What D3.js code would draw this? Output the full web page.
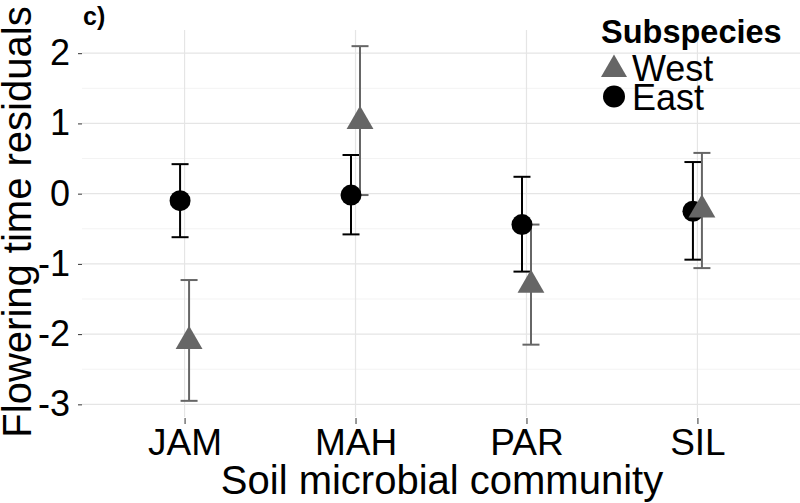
<!DOCTYPE html>
<html lang="en">
<head>
<meta charset="UTF-8">
<title>Flowering time residuals</title>
<script src="https://cdn.jsdelivr.net/npm/d3@7"></script>
<style>
  body { margin: 0; background: #fff; }
  text { font-family: "Liberation Sans", Arial, sans-serif; }
</style>
</head>
<body>
<svg width="800" height="503"></svg>
<script>
    // data
    var categories = ["JAM", "MAH", "PAR", "SIL"];
    var eastMean = [-0.10, -0.02, -0.44, -0.25];
    var eastLo   = [-0.62, -0.58, -1.11, -0.94];
    var eastHi   = [ 0.42,  0.55,  0.24,  0.45];
    var westMean = [-2.10,  1.03, -1.30, -0.23];
    var westLo   = [-2.95, -0.02, -2.15, -1.06];
    var westHi   = [-1.23,  2.10, -0.44,  0.58];
    var yTicks = [-3, -2, -1, 0, 1, 2];
    var yMinor = [-2.5, -1.5, -0.5, 0.5, 1.5];

    var svg = d3.select("svg"),
        panel = {left: 82, right: 800, top: 30, bottom: 417};

    var x = d3.scalePoint()
        .domain(categories)
        .range([panel.left, panel.right])
        .padding(0.6);
    var y = d3.scaleLinear()
        .domain([-3.18, 2.33])
        .range([panel.bottom, panel.top]);

    var dodge = 4.5;
    var series = [
        {name: "East", mean: eastMean, lo: eastLo, hi: eastHi, color: "#000", shape: "circle", off: -dodge},
        {name: "West", mean: westMean, lo: westLo, hi: westHi, color: "#666", shape: "triangle", off: dodge}
    ];

    // grid
    var grid = svg.append("g");
    grid.selectAll(".minor").data(yMinor).enter().append("line")
        .attr("x1", panel.left).attr("x2", panel.right)
        .attr("y1", function(d){ return y(d); }).attr("y2", function(d){ return y(d); })
        .attr("stroke", "#f3f3f3").attr("stroke-width", 1);
    grid.selectAll(".major").data(yTicks).enter().append("line")
        .attr("x1", panel.left).attr("x2", panel.right)
        .attr("y1", function(d){ return y(d); }).attr("y2", function(d){ return y(d); })
        .attr("stroke", "#e5e5e5").attr("stroke-width", 1.2);
    grid.selectAll(".vert").data(categories).enter().append("line")
        .attr("x1", function(d){ return x(d); }).attr("x2", function(d){ return x(d); })
        .attr("y1", panel.top).attr("y2", panel.bottom)
        .attr("stroke", "#e5e5e5").attr("stroke-width", 1.2);

    // axes
    var yAxis = svg.append("g")
        .attr("transform", "translate(" + panel.left + ",0)")
        .call(d3.axisLeft(y).tickValues(yTicks).tickSize(4).tickPadding(8).tickFormat(d3.format("d")));
    yAxis.select(".domain").remove();
    yAxis.selectAll("line").attr("stroke", "#333");
    yAxis.selectAll("text").attr("font-size", "36px").attr("fill", "#000")
        .attr("font-family", "Liberation Sans, Arial, sans-serif")
        .text(function(d){ return d < 0 ? "-" + Math.abs(d) : d; });

    var xAxis = svg.append("g")
        .attr("transform", "translate(0," + (panel.bottom + 1) + ")")
        .call(d3.axisBottom(x).tickSize(6).tickPadding(5));
    xAxis.select(".domain").remove();
    xAxis.selectAll("line").attr("stroke", "#333");
    xAxis.selectAll("text").attr("font-size", "37px").attr("fill", "#000")
        .attr("font-family", "Liberation Sans, Arial, sans-serif");

    // axis titles
    svg.append("text")
        .attr("x", (panel.left + panel.right) / 2 + 1)
        .attr("y", 494)
        .attr("text-anchor", "middle")
        .attr("font-size", "40px")
        .text("Soil microbial community");
    svg.append("text")
        .attr("transform", "translate(31," + 222 + ") rotate(-90)")
        .attr("text-anchor", "middle")
        .attr("font-size", "40px")
        .text("Flowering time residuals");

    svg.append("text")
        .attr("x", 83).attr("y", 25)
        .attr("font-size", "25px").attr("font-weight", "bold")
        .text("c)");

    function triPath(r) {
        var xc = r * Math.sqrt(3) / 2;
        return "M0," + (-r) + "L" + xc + "," + (r / 2) + "L" + (-xc) + "," + (r / 2) + "Z";
    }

    // error bars
    var capHalf = 8.5;
    series.forEach(function(s){
        var g = svg.append("g").attr("stroke", s.color).attr("stroke-width", 2);
        categories.forEach(function(c, i){
            var cx = x(c) + s.off;
            g.append("line").attr("x1", cx).attr("x2", cx).attr("y1", y(s.lo[i])).attr("y2", y(s.hi[i]));
            g.append("line").attr("x1", cx - capHalf).attr("x2", cx + capHalf).attr("y1", y(s.lo[i])).attr("y2", y(s.lo[i]));
            g.append("line").attr("x1", cx - capHalf).attr("x2", cx + capHalf).attr("y1", y(s.hi[i])).attr("y2", y(s.hi[i]));
        });
    });

    // points
    series.forEach(function(s){
        var g = svg.append("g").attr("fill", s.color);
        categories.forEach(function(c, i){
            var cx = x(c) + s.off, cy = y(s.mean[i]);
            if (s.shape === "circle") {
                g.append("circle").attr("cx", cx).attr("cy", cy).attr("r", 10.5);
            } else {
                g.append("path").attr("d", triPath(15.5))
                    .attr("transform", "translate(" + cx + "," + cy + ")");
            }
        });
    });

    // legend
    var legend = svg.append("g");
    legend.append("text")
        .attr("x", 601).attr("y", 43)
        .attr("font-size", "32.5px").attr("font-weight", "bold")
        .text("Subspecies");
    legend.append("path").attr("d", triPath(15))
        .attr("transform", "translate(614,69.5)").attr("fill", "#666");
    legend.append("text").attr("x", 632).attr("y", 81).attr("font-size", "36px").text("West");
    legend.append("circle").attr("cx", 614).attr("cy", 96.5).attr("r", 11).attr("fill", "#000");
    legend.append("text").attr("x", 632).attr("y", 110).attr("font-size", "36px").text("East");
</script>
</body>
</html>
